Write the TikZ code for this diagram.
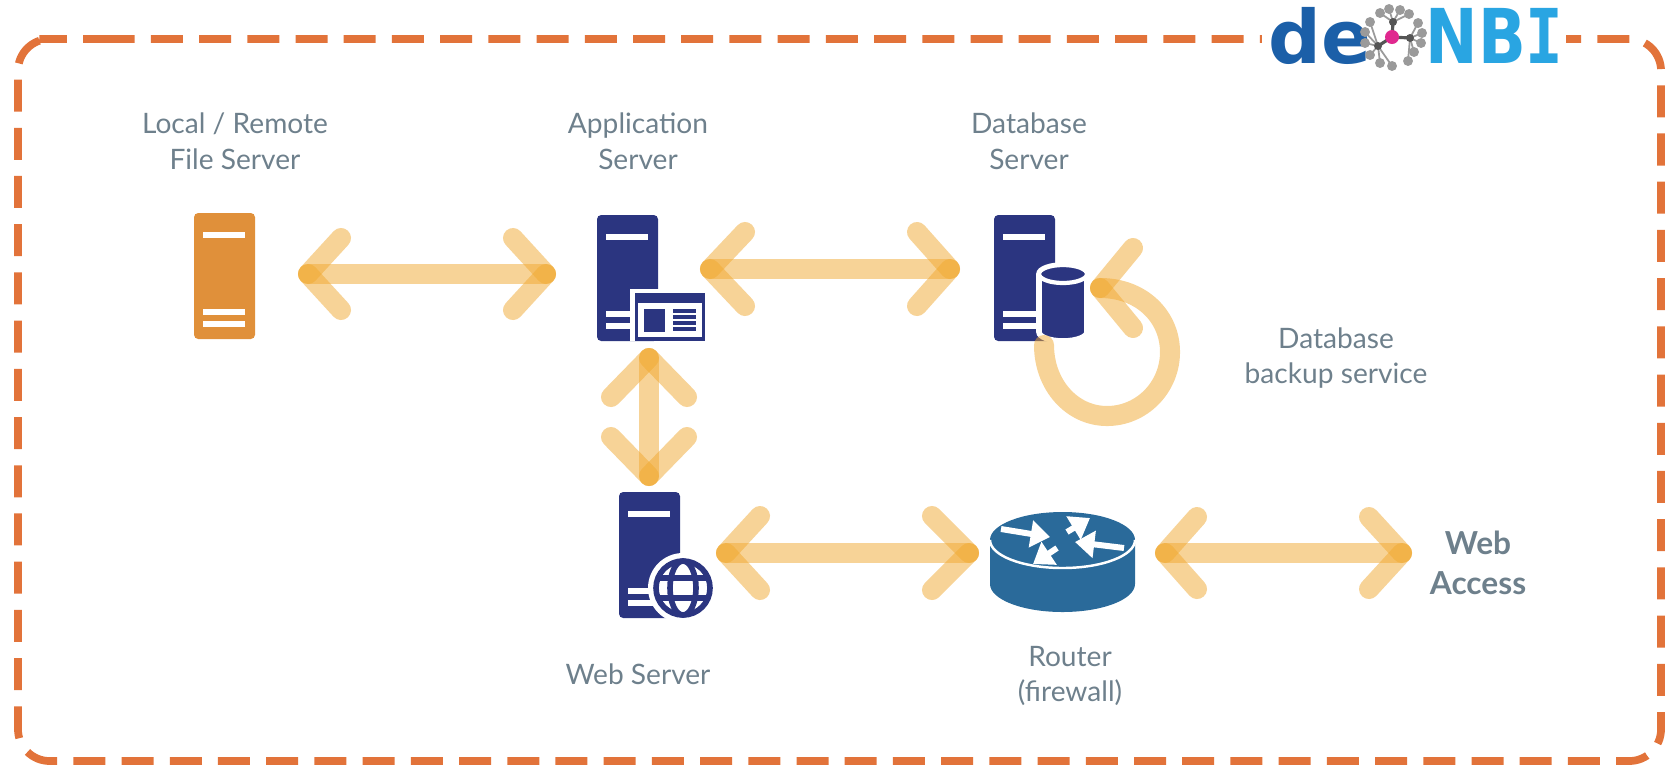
\documentclass[tikz,border=0pt]{standalone}
\usepackage{fontspec}
\setmainfont{Lato}
\newfontfamily\logofont{DejaVu Sans}
\newfontfamily\logomono{DejaVu Sans Mono}
\usetikzlibrary{arrows.meta}

\definecolor{framecol}{HTML}{E2733A}
\definecolor{flowcol}{HTML}{F0A830}
\definecolor{navycol}{HTML}{2B3580}
\definecolor{filecol}{HTML}{E0903A}
\definecolor{routercol}{HTML}{2A6A9A}
\definecolor{labelcol}{HTML}{6E808C}
\definecolor{deblue}{HTML}{1B5FA8}
\definecolor{nbiblue}{HTML}{29A5E2}
\definecolor{atomgray}{HTML}{9A9A9A}
\definecolor{atomdark}{HTML}{555555}
\definecolor{atompink}{HTML}{E0288F}

\tikzset{
  flow/.style={draw=flowcol, draw opacity=0.5, line width=5.7pt, line cap=round},
  label/.style={text=labelcol, font=\fontsize{8pt}{10.1pt}\selectfont, inner sep=0pt, align=center},
  bigl/.style={text=labelcol, font=\fontsize{9pt}{11.3pt}\selectfont\bfseries, inner sep=0pt, align=center},
  routerarrow/.style={white, line width=1.7pt, -{Triangle[length=5.5pt,width=7.5pt]}},
}

% one server tower, anchored at its top left corner
\newcommand{\towerbox}[2]{
  \fill[#2, rounded corners=1.2pt] (#1) -- ++(0,126) -- ++(61,0) -- ++(0,-126) -- cycle;
  \fill[white] (#1) ++(9,19) rectangle ++(42,6);
  \fill[white] (#1) ++(9,96) rectangle ++(42,6);
  \fill[white] (#1) ++(9,108) rectangle ++(42,6);
}
% the barbs at one end of a two way arrow
\newcommand{\flowend}[3]{
  \draw[flow] (#1) -- ++(#2,-#3);
  \draw[flow] (#1) -- ++(#2,#3);
}
\newcommand{\flowvert}[3]{
  \draw[flow] (#1) -- ++(-#2,#3);
  \draw[flow] (#1) -- ++(#2,#3);
}

\begin{document}
\begin{tikzpicture}[x=0.01cm, y=-0.01cm]
  \useasboundingbox (0,0) rectangle (1667,766);

  % Frame
  \draw[framecol, line width=2.2pt, rounded corners=9pt, dash pattern=on 9.1pt off 4.61pt]
    (71,39) -- (1661,39) -- (1661,761) -- (18,761) -- (18,39) -- cycle;
  \fill[white] (1262,0) rectangle (1566,70);

  % Logo
  \node[inner sep=0pt, anchor=base west, text=deblue, font=\fontsize{21pt}{21pt}\logofont\bfseries] (logode) at (1268,63) {de};
  \node[inner sep=0pt, anchor=base west, text=nbiblue, xscale=0.83, transform shape, font=\fontsize{21.5pt}{21pt}\logofont\bfseries] (logonbi) at (1425,63) {NB{\logomono I}};
  \coordinate (hub) at (1392,37);
  \coordinate (hubN) at (1393,22);
  \coordinate (hubE) at (1410,38);
  \coordinate (hubW) at (1378,46);
  \foreach \lx/\ly in {1380/13,1389/9,1400/10,1409/14}
    \draw[atomgray, line width=0.5pt] (hubN) -- (\lx,\ly) node[circle, fill=atomgray, inner sep=1pt] {};
  \foreach \lx/\ly in {1418/23,1422/33,1421/43,1414/52,1408/61}
    \draw[atomgray, line width=0.5pt] (hubE) -- (\lx,\ly) node[circle, fill=atomgray, inner sep=1pt] {};
  \foreach \lx/\ly in {1370/22,1365/32,1365/43,1370/55,1380/63,1392/66}
    \draw[atomgray, line width=0.5pt] (hubW) -- (\lx,\ly) node[circle, fill=atomgray, inner sep=1pt] {};
  \draw[atomdark, line width=0.9pt] (hubN) -- (hub) (hubE) -- (hub) (hubW) -- (hub);
  \foreach \d in {hubN,hubE,hubW}
    \fill[atomdark] (\d) circle (4);
  \fill[atompink] (hub) circle (7);

  % Servers
  \coordinate (fileT) at (194,213);
  \coordinate (appT) at (597,215);
  \coordinate (dbT) at (994,215);
  \coordinate (webT) at (619,492);
  \towerbox{fileT}{filecol}
  \towerbox{appT}{navycol}
  \towerbox{dbT}{navycol}
  \towerbox{webT}{navycol}

  % Application window
  \fill[white] (630,289) rectangle (708,341);
  \fill[navycol] (635,293) rectangle (705,341);
  \fill[white] (638,303) rectangle (702,337);
  \fill[navycol] (644,309) rectangle (665,332);
  \foreach \ly in {309,315,321,327}
    \fill[navycol] (673,\ly) rectangle (696,\ly+4);

  % Database cylinder
  \fill[navycol, draw=white, line width=1.6pt] (1039,274) -- (1039,332) arc[start angle=180, end angle=360, x radius=24, y radius=-9]
    -- (1087,274) arc[start angle=0, end angle=180, x radius=24, y radius=-9] -- cycle;
  \fill[navycol, draw=white, line width=1.2pt] (1063,274) ellipse (24 and 9);

  % Globe
  \coordinate (globe) at (683,588);
  \fill[white] (globe) circle (35);
  \draw[navycol, line width=1.6pt] (globe) circle (27);
  \draw[navycol, line width=1.6pt] (globe) ellipse (13 and 27);
  \draw[navycol, line width=1.6pt] (660,578) -- (706,578) (660,598) -- (706,598);

  % Router
  \fill[routercol] (990,540) -- (990,584) arc[start angle=180, end angle=360, x radius=72.5, y radius=-28]
    -- (1135,540) arc[start angle=0, end angle=180, x radius=72.5, y radius=-28] -- cycle;
  \draw[white, line width=0.7pt] (990,540) arc[start angle=180, end angle=360, x radius=72.5, y radius=-28];
  \draw[routerarrow] (1001,529) -- (1050,537);
  \draw[routerarrow] (1067,532) -- (1090,518);
  \draw[routerarrow] (1124,548) -- (1075,542);
  \draw[routerarrow] (1057,548) -- (1033,564);

  % Arrows
  \coordinate (fileE) at (308,274);
  \coordinate (appW) at (546,274);
  \coordinate (appE) at (710,269);
  \coordinate (dbW) at (950,269);
  \coordinate (appS) at (649,358);
  \coordinate (webN) at (649,476);
  \coordinate (webE) at (726,553);
  \coordinate (rtW) at (969,553);
  \coordinate (rtE) at (1165,553);
  \coordinate (wwwW) at (1402,553);
  \coordinate (dbLoop) at (1044,345);
  \coordinate (dbTip) at (1100,288);

  \draw[flow] (fileE) -- (appW);
  \flowend{fileE}{33}{36}
  \flowend{appW}{-33}{36}
  \draw[flow] (appE) -- (dbW);
  \flowend{appE}{35}{37}
  \flowend{dbW}{-33}{37}
  \draw[flow] (appS) -- (webN);
  \flowvert{appS}{38}{39}
  \flowvert{webN}{38}{-39}
  \draw[flow] (webE) -- (rtW);
  \flowend{webE}{34}{37}
  \flowend{rtW}{-37}{37}
  \draw[flow] (rtE) -- (wwwW);
  \flowend{rtE}{32}{36}
  \flowend{wwwW}{-33}{36}

  % Backup loop
  \draw[flow] (dbLoop) .. controls (1044,385) and (1072,416) .. (1107,416)
    .. controls (1142,416) and (1170,387) .. (1170,352)
    .. controls (1170,317) and (1142,288) .. (dbTip);
  \flowend{dbTip}{33}{40}

  % Labels
  \node[label] (fileL) at (235,141) {Local / Remote\\File Server};
  \node[label] (appL) at (638,141) {Application\\Server};
  \node[label] (dbL) at (1029,141) {Database\\Server};
  \node[label] (backupL) at (1336,358) {Database\\backup service};
  \node[label] (webL) at (638,674) {Web Server};
  \node[label] (rtL) at (1070,676) {Router\\(firewall)};
  \node[bigl] (wwwL) at (1478,563) {Web\\Access};
\end{tikzpicture}
\end{document}
